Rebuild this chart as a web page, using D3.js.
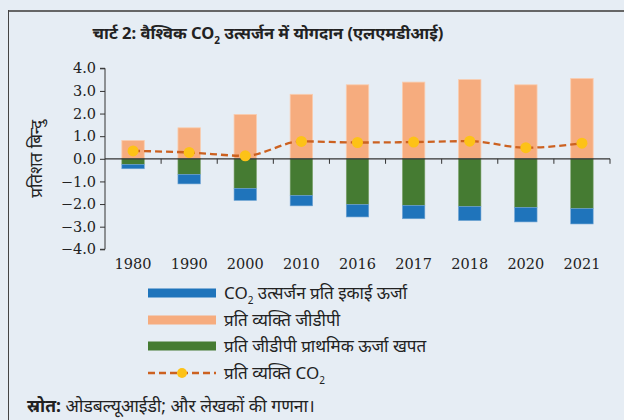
<!DOCTYPE html>
<html lang="hi">
  <head>
    <meta charset="utf-8" />
    <title>चार्ट 2</title>
    <script src="https://d3js.org/d3.v7.min.js"></script>
    <style>
      body { margin: 0; background: #e6edf4; }
      svg { display: block; }
      .hi { font-family: "Noto Sans", "Noto Sans Devanagari", sans-serif; fill: #222; }
      .axis text { font-family: "DejaVu Serif", serif; font-size: 14.5px; fill: #222; }
    </style>
  </head>
  <body>
    <svg id="chart" width="624" height="420"></svg>

    <script>
      // data
      const years = ["1980", "1990", "2000", "2010", "2016", "2017", "2018", "2020", "2021"];
      const gdpPerCapita = [0.81, 1.37, 1.96, 2.85, 3.27, 3.39, 3.50, 3.27, 3.55];
      const energyPerGdp = [-0.25, -0.69, -1.31, -1.62, -2.02, -2.06, -2.11, -2.15, -2.20];
      const co2PerEnergy = [-0.19, -0.42, -0.53, -0.46, -0.55, -0.59, -0.62, -0.64, -0.68];
      const co2PerCapita = [0.35, 0.28, 0.13, 0.77, 0.72, 0.74, 0.78, 0.49, 0.69];
      const yTicks = [4, 3, 2, 1, 0, -1, -2, -3, -4];

      const colors = { blue: "#1f74bb", orange: "#f6ac7e", green: "#457b32", line: "#cc6120", dot: "#fdc217" };

      const svg = d3.select("#chart");

      // frame
      svg.append("line").attr("x1", 8).attr("x2", 624).attr("y1", 11).attr("y2", 11)
        .attr("stroke", "#666").attr("stroke-width", 2);
      svg.append("line").attr("x1", 8.5).attr("x2", 8.5).attr("y1", 10).attr("y2", 420)
        .attr("stroke", "#444").attr("stroke-width", 1);

      // title
      const title = svg.append("text").attr("class", "hi")
        .attr("x", 268).attr("y", 39).attr("text-anchor", "middle")
        .style("font-size", "16.5px").style("font-weight", "bold");
      title.append("tspan").text("चार्ट 2: वैश्विक CO");
      title.append("tspan").text("2").attr("dy", 5).style("font-size", "10px");
      title.append("tspan").text(" उत्सर्जन में योगदान (एलएमडीआई)").attr("dy", -5);

      const x = d3.scaleBand().domain(years).range([105, 610]).paddingInner(0.6).paddingOuter(0.3);
      const y = d3.scaleLinear().domain([-4, 4]).range([249.3, 68.3]);

      // y axis
      const yAxis = svg.append("g").attr("class", "axis").attr("transform", "translate(105,0)")
        .call(d3.axisLeft(y).tickValues(yTicks).tickFormat(d3.format(".1f")).tickSize(5).tickPadding(4));
      yAxis.selectAll("path, line").attr("stroke", "#333");
      yAxis.select(".domain").attr("d", "M-5," + y(4) + "H0V" + y(-4) + "H-5");

      // y title
      svg.append("text").attr("class", "hi")
        .attr("transform", "translate(42," + y(0) + ") rotate(-90)")
        .attr("text-anchor", "middle").style("font-size", "17px")
        .text("प्रतिशत बिन्दु");

      // bars
      const rows = years.map((yr, i) => ({ yr, g: gdpPerCapita[i], e: energyPerGdp[i], c: co2PerEnergy[i], p: co2PerCapita[i] }));
      const bw = x.bandwidth();

      svg.append("g").selectAll("rect").data(rows).join("rect")
        .attr("x", d => x(d.yr)).attr("width", bw)
        .attr("y", d => y(d.g)).attr("height", d => y(0) - y(d.g))
        .attr("fill", colors.orange).attr("stroke", "#f9cdb0").attr("stroke-width", 0.8);

      svg.append("g").selectAll("rect").data(rows).join("rect")
        .attr("x", d => x(d.yr)).attr("width", bw)
        .attr("y", y(0)).attr("height", d => y(d.e) - y(0))
        .attr("fill", colors.green).attr("stroke", "#7fa36f").attr("stroke-width", 0.6);

      svg.append("g").selectAll("rect").data(rows).join("rect")
        .attr("x", d => x(d.yr)).attr("width", bw)
        .attr("y", d => y(d.e)).attr("height", d => y(d.e + d.c) - y(d.e))
        .attr("fill", colors.blue).attr("stroke", "#6fa3d2").attr("stroke-width", 0.6);

      // x axis at zero
      const step = x.step();
      const xa = svg.append("g").attr("class", "axis");
      xa.append("line").attr("x1", 105).attr("x2", 610).attr("y1", y(0)).attr("y2", y(0))
        .attr("stroke", "#333").attr("stroke-width", 1.2);
      xa.selectAll(".tk").data(years).join("line").attr("class", "tk")
        .attr("x1", (d, i) => 105 + step * (i + 1)).attr("x2", (d, i) => 105 + step * (i + 1))
        .attr("y1", y(0)).attr("y2", y(0) + 5).attr("stroke", "#333");
      xa.selectAll("text").data(years).join("text")
        .attr("x", d => x(d) + bw / 2).attr("y", 269).attr("text-anchor", "middle")
        .text(d => d);

      // line
      const line = d3.line().x(d => x(d.yr) + bw / 2).y(d => y(d.p)).curve(d3.curveMonotoneX);
      svg.append("path").datum(rows).attr("d", line)
        .attr("fill", "none").attr("stroke", colors.line).attr("stroke-width", 2.3)
        .attr("stroke-dasharray", "7,4");
      svg.append("g").selectAll("circle").data(rows).join("circle")
        .attr("cx", d => x(d.yr) + bw / 2).attr("cy", d => y(d.p)).attr("r", 5.5)
        .attr("fill", colors.dot);

      // legend
      const legend = [
        { key: "bar", color: colors.blue, parts: ["CO", "2", " उत्सर्जन प्रति इकाई ऊर्जा"] },
        { key: "bar", color: colors.orange, parts: ["प्रति व्यक्ति जीडीपी"] },
        { key: "bar", color: colors.green, parts: ["प्रति जीडीपी प्राथमिक ऊर्जा खपत"] },
        { key: "line", color: colors.line, parts: ["प्रति व्यक्ति CO", "2"] }
      ];
      const ly = [293, 320, 346, 373];
      legend.forEach((l, i) => {
        const g = svg.append("g").attr("transform", "translate(148," + ly[i] + ")");
        if (l.key === "bar") {
          g.append("rect").attr("x", 0).attr("y", -4.5).attr("width", 68).attr("height", 9).attr("fill", l.color);
        } else {
          g.append("line").attr("x1", 0).attr("x2", 68).attr("y1", 0).attr("y2", 0)
            .attr("stroke", l.color).attr("stroke-width", 2.3).attr("stroke-dasharray", "7,4");
          g.append("circle").attr("cx", 34).attr("cy", 0).attr("r", 5).attr("fill", colors.dot);
        }
        const t = g.append("text").attr("class", "hi").attr("x", 76).attr("y", 6).style("font-size", "17px");
        t.append("tspan").text(l.parts[0]);
        if (l.parts.length > 1) {
          t.append("tspan").text(l.parts[1]).attr("dy", 5).style("font-size", "10px");
          if (l.parts[2]) t.append("tspan").text(l.parts[2]).attr("dy", -5);
        }
      });

      // source
      const src = svg.append("text").attr("class", "hi").attr("x", 27).attr("y", 412).style("font-size", "17.5px");
      src.append("tspan").text("स्रोत:").style("font-weight", "bold");
      src.append("tspan").text(" ओडबल्यूआईडी; और लेखकों की गणना।");
    </script>
  </body>
</html>
